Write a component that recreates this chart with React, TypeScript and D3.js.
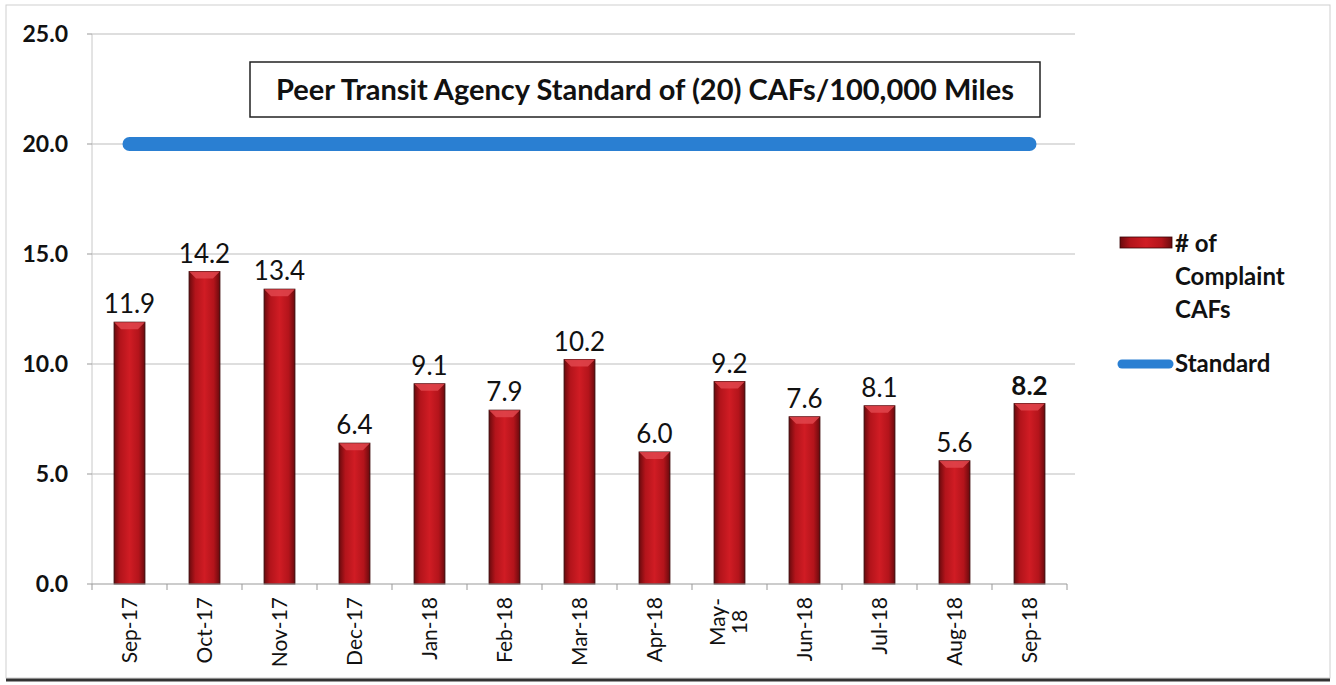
import React from "react";
import * as d3 from "d3";

const categories = ["Sep-17","Oct-17","Nov-17","Dec-17","Jan-18","Feb-18","Mar-18","Apr-18","May-18","Jun-18","Jul-18","Aug-18","Sep-18"];
const complaintCAFs = [11.9, 14.2, 13.4, 6.4, 9.1, 7.9, 10.2, 6.0, 9.2, 7.6, 8.1, 5.6, 8.2];
const standardValues = [20,20,20,20,20,20,20,20,20,20,20,20,20];
const yTicks = [0, 5, 10, 15, 20, 25];
const titleText = "Peer Transit Agency Standard of (20) CAFs/100,000 Miles";

const W = 1336, H = 685;
const FONT = "Lato, 'Open Sans', sans-serif";

export default function App() {
  const x = d3.scaleBand<string>().domain(categories).range([92, 1067]).paddingInner(0.59).paddingOuter(0.295);
  const xb = d3.scaleBand<string>().domain(categories).range([92, 1067]);
  const y = d3.scaleLinear().domain([0, 25]).range([584, 34]);
  const bw = x.bandwidth();
  const line = d3.line<number>().x((_, i) => xb(categories[i])! + xb.bandwidth() / 2).y(d => y(d));

  return (
    <svg width={W} height={H} style={{ position: "absolute", left: 0, top: 0, background: "#fff" }}>
      <defs>
        <linearGradient id="barGrad" x1="0" x2="1" y1="0" y2="0">
          <stop offset="0" stopColor="#6a0a0d" />
          <stop offset="0.2" stopColor="#b3141b" />
          <stop offset="0.5" stopColor="#d01c24" />
          <stop offset="0.8" stopColor="#b3141b" />
          <stop offset="1" stopColor="#6a0a0d" />
        </linearGradient>
      </defs>
      {/* frame */}
      <rect x={6} y={5} width={1324} height={673} fill="none" stroke="#cfcfcf" strokeWidth={1} />
      <line x1={6} x2={1330} y1={680} y2={680} stroke="#333" strokeWidth={3} />

      {/* gridlines */}
      {yTicks.filter(t => t > 0).map(t => (
        <line key={t} x1={92} x2={1075} y1={y(t)} y2={y(t)} stroke="#bdbdbd" strokeWidth={1} />
      ))}
      {/* y axis */}
      <line x1={92} x2={92} y1={y(25)} y2={y(0)} stroke="#c8c8c8" strokeWidth={1} />
      {yTicks.map(t => (
        <g key={t}>
          <line x1={87} x2={92} y1={y(t)} y2={y(t)} stroke="#999" />
          <text x={68} y={y(t)} dy="0.35em" textAnchor="end" fontFamily={FONT} fontWeight={700} fontSize={23} fill="#111">
            {t.toFixed(1)}
          </text>
        </g>
      ))}

      {/* bars */}
      {complaintCAFs.map((v, i) => {
        const bx = x(categories[i])!;
        const by = y(v);
        const bev = 7;
        return (
          <g key={i}>
            <rect x={bx} y={by} width={bw} height={y(0) - by} fill="url(#barGrad)" stroke="#3a0405" strokeWidth={1} />
            <polygon points={`${bx},${by} ${bx + bw},${by} ${bx + bw - bev},${by + bev} ${bx + bev},${by + bev}`} fill="#e0454c" opacity={0.85} />
          </g>
        );
      })}

      {/* x axis */}
      <line x1={92} x2={1067} y1={y(0)} y2={y(0)} stroke="#999" strokeWidth={1} />
      {[...categories.map(c => xb(c)!), 1067].map((tx, i) => (
        <line key={i} x1={tx} x2={tx} y1={y(0)} y2={y(0) + 6} stroke="#999" />
      ))}
      {categories.map((c) => {
        const cx = xb(c)! + xb.bandwidth() / 2;
        if (c === "May-18") {
          return (
            <text key={c} transform={`translate(${cx},622) rotate(-90)`} textAnchor="middle" fontFamily={FONT} fontSize={21} fill="#111">
              <tspan x={0} dy="-0.2em">May-</tspan>
              <tspan x={0} dy="1.05em">18</tspan>
            </text>
          );
        }
        return (
          <text key={c} transform={`translate(${cx},597) rotate(-90)`} dy="0.35em" textAnchor="end" fontFamily={FONT} fontSize={21} fill="#111">
            {c}
          </text>
        );
      })}

      {/* value labels */}
      {complaintCAFs.map((v, i) => (
        <text key={i} x={x(categories[i])! + bw / 2} y={y(v) - 9} textAnchor="middle" fontFamily={FONT}
          fontSize={26} fontWeight={i === categories.length - 1 ? 700 : 400} fill="#111">
          {v.toFixed(1)}
        </text>
      ))}

      {/* standard line */}
      <path d={line(standardValues)!} fill="none" stroke="#2a7fd2" strokeWidth={14} strokeLinecap="round" />

      {/* title box */}
      <rect x={250} y={62} width={790} height={55} fill="#fff" stroke="#222" strokeWidth={1.5} />
      <text x={645} y={90} dy="0.35em" textAnchor="middle" fontFamily={FONT} fontWeight={700} fontSize={29} fill="#111">
        {titleText}
      </text>

      {/* legend */}
      <rect x={1120} y={237} width={52} height={11} fill="url(#barGrad)" stroke="#3a0405" strokeWidth={0.8} />
      <text fontFamily={FONT} fontWeight={700} fontSize={24} fill="#111">
        <tspan x={1175} y={252}># of</tspan>
        <tspan x={1175} y={285}>Complaint</tspan>
        <tspan x={1175} y={318}>CAFs</tspan>
      </text>
      <line x1={1122} x2={1169} y1={364} y2={364} stroke="#2a7fd2" strokeWidth={9} strokeLinecap="round" />
      <text x={1175} y={364} dy="0.35em" fontFamily={FONT} fontWeight={700} fontSize={24} fill="#111">Standard</text>
    </svg>
  );
}
